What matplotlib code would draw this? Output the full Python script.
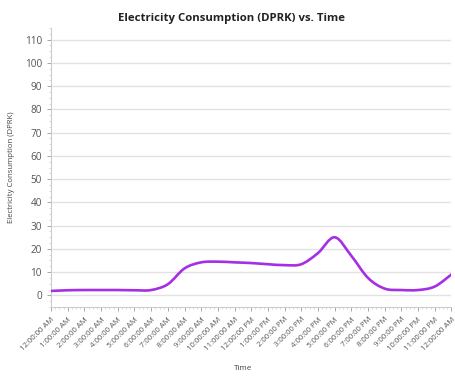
import matplotlib
matplotlib.use("Agg")
import matplotlib.pyplot as plt
import numpy as np
from matplotlib.path import Path
from matplotlib.patches import PathPatch
from matplotlib.ticker import MultipleLocator

hours = [0, 1, 2, 3, 4, 5, 6, 7, 8, 9, 10, 11, 12, 13, 14, 15, 16, 17, 18, 19, 20, 21, 22, 23, 24]
consumption = [1.9, 2.2, 2.3, 2.3, 2.3, 2.2, 2.3, 4.8, 11.6, 14.2, 14.5, 14.2, 13.9, 13.4, 13.0, 13.4, 18.2, 25.0, 17.0, 7.5, 2.9, 2.3, 2.3, 3.8, 9.0]
tick_labels = ["12:00:00 AM", "1:00:00 AM", "2:00:00 AM", "3:00:00 AM", "4:00:00 AM", "5:00:00 AM",
               "6:00:00 AM", "7:00:00 AM", "8:00:00 AM", "9:00:00 AM", "10:00:00 AM", "11:00:00 AM",
               "12:00:00 PM", "1:00:00 PM", "2:00:00 PM", "3:00:00 PM", "4:00:00 PM", "5:00:00 PM",
               "6:00:00 PM", "7:00:00 PM", "8:00:00 PM", "9:00:00 PM", "10:00:00 PM", "11:00:00 PM",
               "12:00:00 AM"]
y_ticks = [0, 10, 20, 30, 40, 50, 60, 70, 80, 90, 100, 110]

plt.rcParams['font.family'] = ['Open Sans', 'DejaVu Sans']

fig = plt.figure(figsize=(4.56, 3.79), dpi=100)
left, width = 0.112, 0.878
ax = fig.add_axes([left, 0.19, width, 0.736])

# smooth curve (Catmull-Rom -> cubic Bezier) through the data points
x = np.array(hours, dtype=float)
y = np.array(consumption, dtype=float)
verts = [(x[0], y[0])]
codes = [Path.MOVETO]
n = len(x)
for i in range(n - 1):
    p0 = (x[i - 1], y[i - 1]) if i > 0 else (x[i], y[i])
    p1 = (x[i], y[i])
    p2 = (x[i + 1], y[i + 1])
    p3 = (x[i + 2], y[i + 2]) if i + 2 < n else (x[i + 1], y[i + 1])
    c1 = (p1[0] + (p2[0] - p0[0]) / 6, p1[1] + (p2[1] - p0[1]) / 6)
    c2 = (p2[0] - (p3[0] - p1[0]) / 6, p2[1] - (p3[1] - p1[1]) / 6)
    verts += [c1, c2, p2]
    codes += [Path.CURVE4] * 3
patch = PathPatch(Path(verts, codes), facecolor='none', edgecolor='#A52EE6', lw=1.9, zorder=3,
                  capstyle='round', joinstyle='round')
ax.add_patch(patch)

ax.set_xlim(0, 24)
ax.set_ylim(-5, 115)
ax.set_yticks(y_ticks)
ax.yaxis.set_minor_locator(MultipleLocator(2.5))
ax.set_xticks(hours)
ax.set_xticklabels(tick_labels, rotation=45, ha='right', va='top', rotation_mode='anchor', fontsize=5.6, color='#555555')
ax.xaxis.set_minor_locator(MultipleLocator(0.25))
ax.tick_params(axis='y', labelsize=7.2, colors='#999999', labelcolor='#555555', length=3, width=0.6)
ax.tick_params(axis='x', length=3, width=0.6, colors='#999999', labelcolor='#555555')
ax.tick_params(which='minor', length=1.5, width=0.4, colors='#bbbbbb')

ax.grid(axis='y', color='#e2e2e2', lw=1.0)
for s in ['top', 'right']:
    ax.spines[s].set_visible(False)
for s in ['left', 'bottom']:
    ax.spines[s].set_color('#cccccc')
    ax.spines[s].set_linewidth(0.8)

fig.text(0.507, 0.952, 'Electricity Consumption (DPRK) vs. Time', ha='center', va='center',
         fontsize=8.2, fontweight='bold', color='#222222')
ax.set_ylabel('Electricity Consumption (DPRK)', fontsize=5.6, color='#444444', labelpad=7)
ax.set_xlabel('Time', fontsize=5.8, color='#444444', va='center')
ax.xaxis.set_label_coords((243 / 456 - left) / width, -0.22)

fig.savefig('out.png', dpi=100)
